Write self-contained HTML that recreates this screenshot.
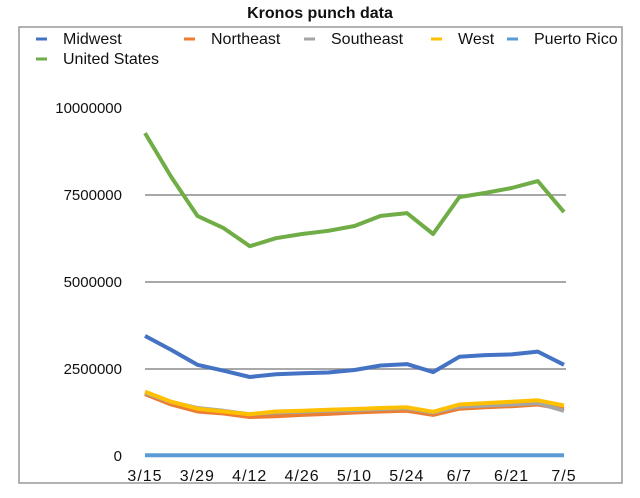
<!DOCTYPE html>
<html><head><meta charset="utf-8"><style>
body{margin:0;background:#fff;width:640px;height:493px;overflow:hidden;font-family:"Liberation Sans",sans-serif}
</style></head><body>
<svg width="640" height="493" id="chart" xmlns="http://www.w3.org/2000/svg">
<text x="320" y="18" text-anchor="middle" font-size="16" font-weight="bold" fill="#111">Kronos punch data</text>
<rect x="19" y="27" width="603" height="456" fill="none" stroke="#999" stroke-width="1.5"/>
<g id="grid"></g><g id="legend"></g><g id="series"></g>
</svg>
<script>
const categories=["3/15","3/22","3/29","4/5","4/12","4/19","4/26","5/3","5/10","5/17","5/24","5/31","6/7","6/14","6/21","6/28","7/5"];
const yTicks=[0,2500000,5000000,7500000,10000000];
const midwest=[3450000,3050000,2620000,2450000,2270000,2350000,2380000,2400000,2470000,2600000,2640000,2410000,2850000,2900000,2920000,3000000,2620000];
const northeast=[1780000,1480000,1280000,1220000,1120000,1140000,1180000,1210000,1250000,1280000,1300000,1180000,1360000,1400000,1430000,1480000,1350000];
const southeast=[1820000,1550000,1380000,1300000,1200000,1250000,1270000,1300000,1320000,1350000,1370000,1250000,1420000,1450000,1480000,1520000,1300000];
const west=[1850000,1560000,1360000,1280000,1200000,1280000,1300000,1330000,1350000,1380000,1400000,1270000,1480000,1520000,1560000,1600000,1450000];
const puertoRico=[20000,20000,20000,20000,20000,20000,20000,20000,20000,20000,20000,20000,20000,20000,20000,20000,20000];
const unitedStates=[9280000,8020000,6900000,6550000,6030000,6260000,6380000,6470000,6610000,6900000,6980000,6380000,7440000,7560000,7700000,7900000,7010000];
const seriesNames=["Midwest","Northeast","Southeast","West","Puerto Rico","United States"];
const seriesColors=["#4472c4","#ed7d31","#a5a5a5","#ffc000","#5b9bd5","#70ad47"];
const seriesData=[midwest,northeast,southeast,west,puertoRico,unitedStates];
const NS="http://www.w3.org/2000/svg";
const x0=145,x1=564,y0=456,y1=108,yMax=10000000;
const xs=i=>x0+i*(x1-x0)/(categories.length-1);
const ys=v=>y0-v/yMax*(y0-y1);
function mk(t,a,p){const e=document.createElementNS(NS,t);for(const k in a)e.setAttribute(k,a[k]);p.appendChild(e);return e;}
const grid=document.getElementById('grid');
yTicks.forEach(v=>{
  if(v>0&&v<yMax){const l=mk('line',{x1:x0,x2:x1+2,y1:ys(v),y2:ys(v),stroke:'#8c8c8c','stroke-width':1.5},grid);
  
  }
  const t=mk('text',{x:122,y:ys(v)+5,'text-anchor':'end','font-size':15,fill:'#111'},grid);
  t.textContent=String(v);
  
  
});
categories.forEach((c,i)=>{if(i%2)return;
  const t=mk('text',{x:xs(i),y:481,'text-anchor':'middle','font-size':16,fill:'#111','letter-spacing':'1'},grid);
  t.textContent=c;
  
  
});
const sg=document.getElementById('series');
const order=[4,5,1,2,3,0];
order.forEach(s=>{
  const pts=seriesData[s].map((v,i)=>xs(i).toFixed(1)+','+ys(v).toFixed(1)).join(' ');
  const p=mk('polyline',{points:pts,fill:'none',stroke:seriesColors[s],'stroke-width':4,'stroke-linejoin':'round'},sg);
  
  
});
const lg=document.getElementById('legend');
const lpos=[[36,44],[184,44],[304,44],[431,44],[507,44],[36,64]];
seriesNames.forEach((n,s)=>{
  const g=mk('g',{},lg);
  
  
  mk('line',{x1:lpos[s][0],x2:lpos[s][0]+11,y1:lpos[s][1]-5,y2:lpos[s][1]-5,stroke:seriesColors[s],'stroke-width':3},g);
  const t=mk('text',{x:lpos[s][0]+27,y:lpos[s][1],'font-size':16,fill:'#111'},g);
  t.textContent=n;
});
</script>
</body></html>
